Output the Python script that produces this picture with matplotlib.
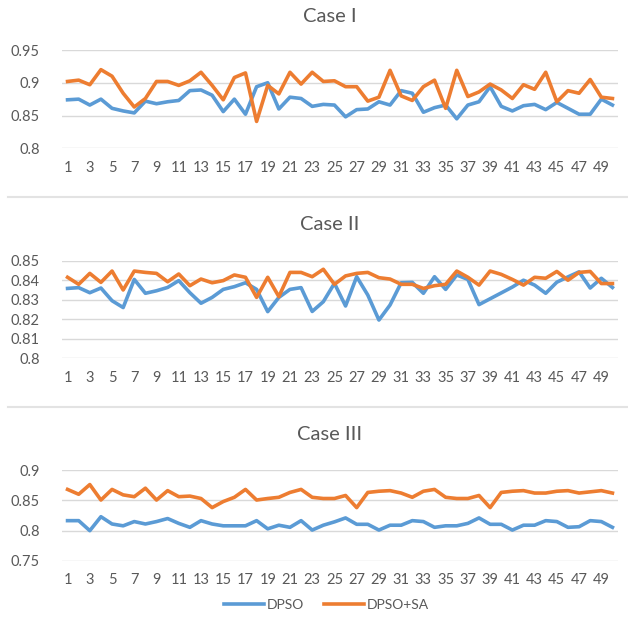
import matplotlib
matplotlib.use("Agg")
import matplotlib.pyplot as plt
from matplotlib.lines import Line2D
import numpy as np

plt.rcParams['font.family'] = ['Lato', 'DejaVu Sans']

runs = list(range(1, 51))
xtick_labels = [str(i) for i in range(1, 51, 2)]

case1_dpso = [0.874, 0.875, 0.866, 0.875, 0.861, 0.857, 0.854, 0.872, 0.868, 0.871,
              0.873, 0.888, 0.889, 0.881, 0.856, 0.875, 0.852, 0.894, 0.900, 0.860,
              0.878, 0.876, 0.864, 0.867, 0.866, 0.848, 0.859, 0.860, 0.871, 0.866,
              0.888, 0.884, 0.855, 0.862, 0.866, 0.845, 0.866, 0.871, 0.894, 0.864,
              0.857, 0.865, 0.867, 0.859, 0.870, 0.861, 0.852, 0.852, 0.875, 0.866]
case1_dpso_sa = [0.902, 0.904, 0.897, 0.920, 0.910, 0.884, 0.863, 0.876, 0.902, 0.902,
                 0.896, 0.903, 0.916, 0.896, 0.874, 0.908, 0.915, 0.841, 0.896, 0.883,
                 0.916, 0.898, 0.916, 0.902, 0.903, 0.894, 0.894, 0.872, 0.878, 0.919,
                 0.880, 0.873, 0.894, 0.904, 0.861, 0.919, 0.879, 0.886, 0.898, 0.889,
                 0.876, 0.897, 0.890, 0.916, 0.871, 0.888, 0.884, 0.905, 0.878, 0.876]

case2_dpso = [0.8358, 0.8362, 0.8336, 0.8360, 0.8295, 0.8260, 0.8404, 0.8333, 0.8346, 0.8363,
              0.8398, 0.8336, 0.8282, 0.8312, 0.8353, 0.8367, 0.8387, 0.8353, 0.8239, 0.8312,
              0.8353, 0.8362, 0.8240, 0.8290, 0.8384, 0.8268, 0.8418, 0.8324, 0.8196, 0.8273,
              0.8387, 0.8389, 0.8333, 0.8418, 0.8353, 0.8427, 0.8404, 0.8275, 0.8305, 0.8335,
              0.8365, 0.8400, 0.8375, 0.8333, 0.8390, 0.8417, 0.8443, 0.8360, 0.8410, 0.8363]
case2_dpso_sa = [0.8415, 0.8379, 0.8435, 0.8389, 0.8447, 0.8350, 0.8447, 0.8440, 0.8435, 0.8392,
                 0.8432, 0.8372, 0.8406, 0.8387, 0.8398, 0.8427, 0.8415, 0.8312, 0.8415, 0.8316,
                 0.8440, 0.8440, 0.8418, 0.8456, 0.8379, 0.8422, 0.8435, 0.8440, 0.8413, 0.8406,
                 0.8379, 0.8379, 0.8358, 0.8372, 0.8379, 0.8447, 0.8415, 0.8375, 0.8447, 0.8430,
                 0.8404, 0.8375, 0.8415, 0.8410, 0.8445, 0.8400, 0.8440, 0.8445, 0.8383, 0.8383]

case3_dpso = [0.8165, 0.8165, 0.800, 0.823, 0.811, 0.808, 0.815, 0.811, 0.815, 0.820,
              0.812, 0.8055, 0.8165, 0.811, 0.808, 0.808, 0.808, 0.8165, 0.803, 0.809,
              0.8055, 0.8165, 0.801, 0.809, 0.8145, 0.821, 0.8105, 0.8105, 0.801, 0.809,
              0.809, 0.8165, 0.815, 0.8055, 0.808, 0.808, 0.812, 0.821, 0.8105, 0.8105,
              0.801, 0.809, 0.809, 0.8165, 0.815, 0.8055, 0.8065, 0.8165, 0.815, 0.8055]
case3_dpso_sa = [0.868, 0.860, 0.876, 0.8505, 0.868, 0.859, 0.856, 0.870, 0.8505, 0.866,
                 0.856, 0.857, 0.853, 0.838, 0.848, 0.855, 0.868, 0.8505, 0.853, 0.855,
                 0.863, 0.868, 0.855, 0.853, 0.853, 0.858, 0.838, 0.863, 0.865, 0.866,
                 0.862, 0.855, 0.865, 0.868, 0.855, 0.853, 0.853, 0.858, 0.838, 0.863,
                 0.865, 0.866, 0.862, 0.862, 0.865, 0.866, 0.862, 0.864, 0.866, 0.862]

titles = ["Case I", "Case II", "Case III"]
yticks = [[0.8, 0.85, 0.9, 0.95],
          [0.8, 0.81, 0.82, 0.83, 0.84, 0.85],
          [0.75, 0.8, 0.85, 0.9]]
ytick_labels = [["0.8", "0.85", "0.9", "0.95"],
                ["0.8", "0.81", "0.82", "0.83", "0.84", "0.85"],
                ["0.75", "0.8", "0.85", "0.9"]]
series = [(case1_dpso, case1_dpso_sa),
          (case2_dpso, case2_dpso_sa),
          (case3_dpso, case3_dpso_sa)]

BLUE = "#5B9BD5"
ORANGE = "#ED7D31"
TEXT = "#595959"
GRID = "#D9D9D9"

W, H = 628, 627
fig = plt.figure(figsize=(W / 100, H / 100), dpi=100)

# axes boxes in pixels: (left, top, right, bottom)
boxes = [(62, 50, 618, 148.3),
         (62, 260.7, 618, 358.3),
         (62, 470, 618, 561)]
title_y = [17, 225, 434]

for k, (box, (b, o)) in enumerate(zip(boxes, series)):
    l, t, r, btm = box
    ax = fig.add_axes([l / W, 1 - btm / H, (r - l) / W, (btm - t) / H])
    ax.plot(runs, b, color=BLUE, lw=2.6, solid_joinstyle='round', label="DPSO")
    ax.plot(runs, o, color=ORANGE, lw=2.6, solid_joinstyle='round', label="DPSO+SA")
    ax.set_xlim(0.5, 50.5)
    ax.set_ylim(yticks[k][0], yticks[k][-1])
    ax.set_yticks(yticks[k])
    ax.set_yticklabels(ytick_labels[k])
    ax.set_xticks(list(range(1, 51, 2)))
    ax.set_xticklabels(xtick_labels)
    ax.tick_params(axis='both', length=0, labelsize=10.5, colors=TEXT)
    ax.tick_params(axis='y', pad=16)
    ax.tick_params(axis='x', pad=9)
    for s in ax.spines.values():
        s.set_visible(False)
    ax.grid(axis='y', color=GRID, lw=1)
    ax.set_axisbelow(True)
    fig.text(0.525, 1 - title_y[k] / H, titles[k], ha='center', va='center',
             fontsize=14.5, color=TEXT)

# borders between the stacked charts
for yy in (196.7, 407):
    fig.add_artist(Line2D([8 / W, 1], [1 - yy / H] * 2, color="#E3E3E3", lw=1.5))

handles = [Line2D([], [], color=BLUE, lw=2.6), Line2D([], [], color=ORANGE, lw=2.6)]
fig.legend(handles, ["DPSO", "DPSO+SA"], loc='center', bbox_to_anchor=(0.52, 1 - 605 / H),
           ncol=2, frameon=False, fontsize=10, handlelength=2.9, handletextpad=0.2,
           columnspacing=1.4, labelcolor=TEXT)

fig.savefig("out.png", dpi=100)
